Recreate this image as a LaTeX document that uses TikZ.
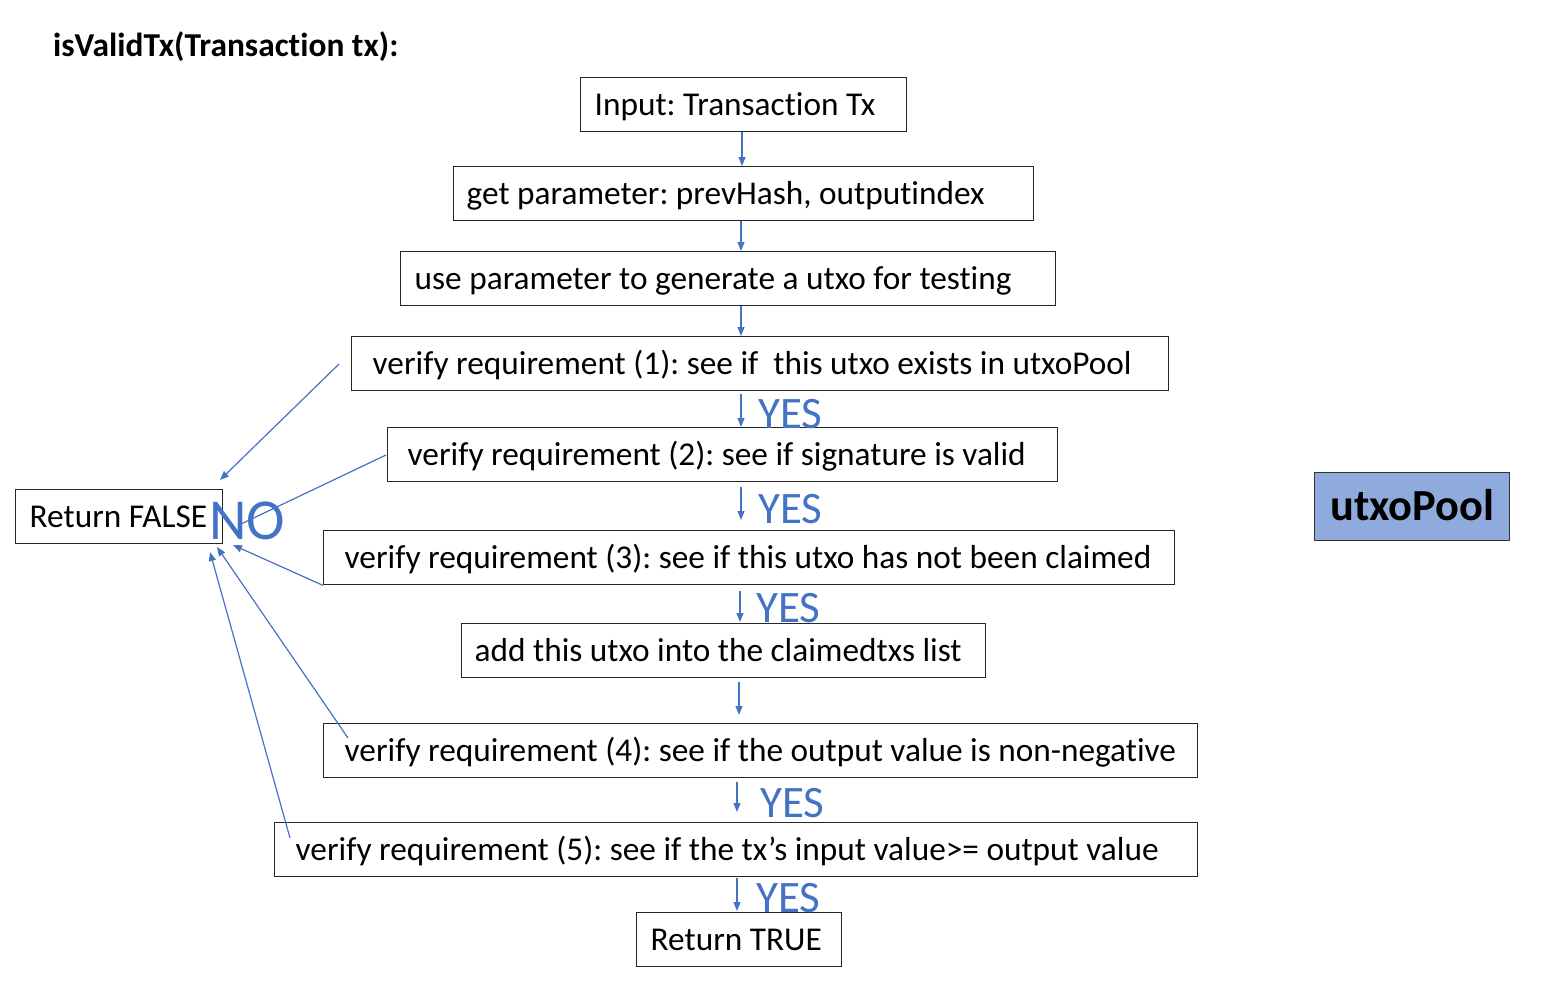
\documentclass[tikz,border=0pt]{standalone}
\usepackage{fontspec}
\setmainfont{Carlito}[Ligatures={NoCommon}]
\usetikzlibrary{arrows.meta}
\definecolor{accent}{HTML}{4472C4}
\definecolor{poolfill}{HTML}{8FAADC}
\frenchspacing
\begin{document}
\begin{tikzpicture}[x=1pt,y=-1pt,
  box/.style={draw=black!85, line width=1.4pt, anchor=north west, minimum height=54pt,
    inner ysep=0pt, text height=22pt, text depth=0pt, font=\fontsize{33.3}{38}\selectfont},
  arr/.style={draw=accent, line width=1.2pt, -{Triangle[length=9pt,width=7pt]}},
  plainline/.style={draw=accent, line width=1.2pt},
  yes/.style={anchor=base west, text=accent, inner sep=0pt, font=\fontsize{45}{50}\selectfont},
  ]
\useasboundingbox (0,0) rectangle (1552,996);

\node[anchor=base west, inner sep=0pt, font=\bfseries\fontsize{33.4}{38}\selectfont] (title) at (53,56) {isValidTx(Transaction tx):};

\node[box, inner xsep=14pt] (b1) at (580,77) {\makebox[298pt][l]{Input: Transaction Tx}};
\node[box, inner xsep=13pt] (b2) at (453,166) {\makebox[554pt][l]{get parameter: prevHash, outputindex}};
\node[box, inner xsep=14pt] (b3) at (400,251) {\makebox[627pt][l]{use parameter to generate a utxo for testing}};
\node[box, inner xsep=21pt] (b4) at (351,336) {\makebox[775pt][l]{verify requirement (1): see if\ \ this utxo exists in utxoPool}};
\node[box, inner xsep=20pt] (b5) at (387,427) {\makebox[630pt][l]{verify requirement (2): see if signature is valid}};
\node[box, inner xsep=21pt] (b6) at (323,530) {\makebox[809pt][l]{verify requirement (3): see if this utxo has not been claimed}};
\node[box, inner xsep=13pt] (b7) at (461,623) {\makebox[498pt][l]{add this utxo into the claimedtxs list}};
\node[box, inner xsep=21pt] (b8) at (323,723) {\makebox[832pt][l]{verify requirement (4): see if the output value is non-negative}};
\node[box, inner xsep=21pt] (b9) at (274,822) {\makebox[881pt][l]{verify requirement (5): see if the tx’s input value>= output value}};
\node[box, inner xsep=14pt] (b10) at (636,912) {\makebox[177pt][l]{Return TRUE}};
\node[box, inner xsep=14pt] (bF) at (15,489) {\makebox[179pt][l]{Return FALSE}};

\node[draw=black!80, line width=1.4pt, fill=poolfill, anchor=north west, minimum width=195pt,
  minimum height=68pt, inner ysep=0pt, text height=28pt, text depth=0pt,
  font=\bfseries\fontsize{44.4}{50}\selectfont] (pool) at (1314,472) {utxoPool};

% vertical flow arrows
\draw[arr] (b1.south -| 742,0) -- (b2.north -| 742,0);
\draw[arr] (b2.south -| 741,0) -- (b3.north -| 741,0);
\draw[arr] (b3.south -| 741,0) -- (b4.north -| 741,0);
\draw[arr, shorten <=3pt] (b4.south -| 741,0) -- (b5.north -| 741,0);
\draw[arr, shorten <=5pt, shorten >=10pt] (b5.south -| 741,0) -- (b6.north -| 741,0);
\draw[arr, shorten <=6pt, shorten >=1pt] (b6.south -| 740,0) -- (b7.north -| 740,0);
\draw[arr, shorten <=4pt, shorten >=8pt] (b7.south -| 739,0) -- (b8.north -| 739,0);
\draw[arr, shorten <=4pt, shorten >=10pt] (b8.south -| 737,0) -- (b9.north -| 737,0);
\draw[arr, shorten <=1pt, shorten >=1pt] (b9.south -| 737,0) -- (b10.north -| 737,0);

% YES labels
\node[yes] (y1) at (758,428) {YES};
\node[yes] (y2) at (758,523) {YES};
\node[yes] (y3) at (756,622) {YES};
\node[yes] (y4) at (760,817) {YES};
\node[yes] (y5) at (756,912) {YES};

% NO connectors
\coordinate (n1s) at (339,364);
\coordinate (n1e) at (220,480);
\coordinate (n2s) at (386,455);
\coordinate (n2e) at (241,524);
\coordinate (n3e) at (233,545);
\coordinate (n4s) at (348,738);
\coordinate (n4e) at (217,547);
\coordinate (n5s) at (290,838);
\coordinate (n5e) at (210,552);
\draw[arr] (n1s) -- (n1e);
\draw[plainline] (n2s) -- (n2e);
\draw[arr] (b6.south west) -- (n3e);
\draw[arr] (n4s) -- (n4e);
\draw[arr] (n5s) -- (n5e);

\node[anchor=base west, inner sep=0pt, text=accent, font=\fontsize{58}{62}\selectfont] (no) at (209,539) {NO};
\end{tikzpicture}
\end{document}
